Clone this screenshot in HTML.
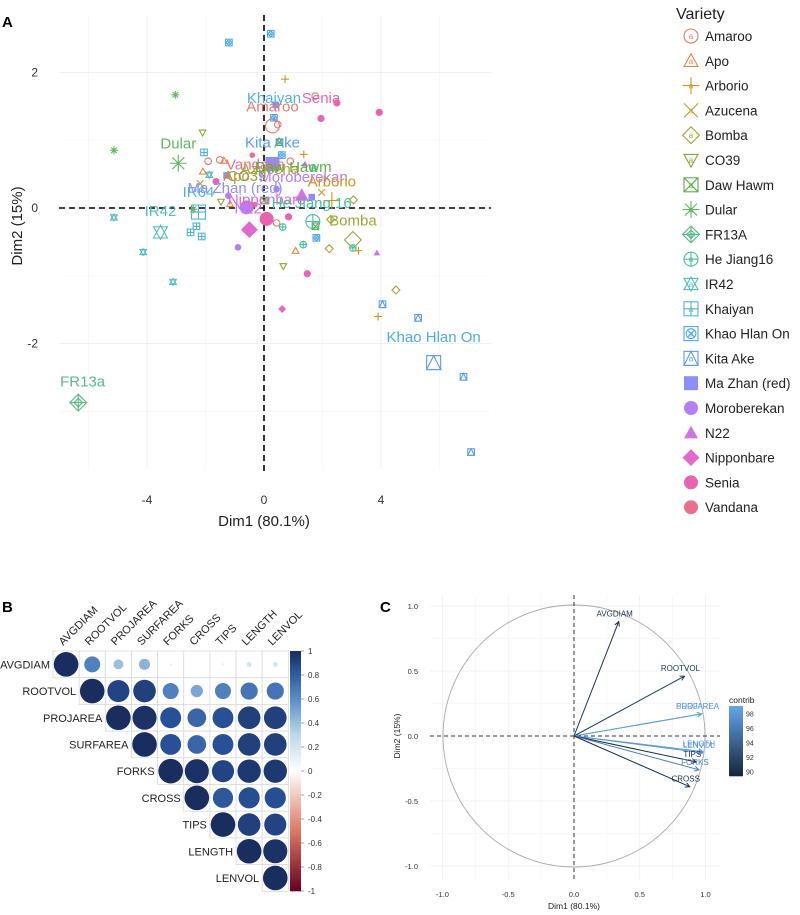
<!DOCTYPE html>
<html><head><meta charset="utf-8"><style>
html,body{margin:0;padding:0;background:#fff;}
svg{display:block;font-family:"Liberation Sans",sans-serif;}
</style></head><body>
<svg id="fig" width="800" height="915" viewBox="0 0 800 915">
<text x="2" y="27" font-size="15" font-weight="bold">A</text>
<text x="2" y="612" font-size="15" font-weight="bold">B</text>
<text x="380" y="612" font-size="15" font-weight="bold">C</text>
<g id="pa"></g>
<g id="leg"></g>
<g id="pb"></g>
<g id="pc"></g>
</svg>
<script>
// ---------- Panel A data ----------
const varieties=["Amaroo","Apo","Arborio","Azucena","Bomba","CO39","Daw Hawm","Dular","FR13A","He Jiang16","IR42","Khaiyan","Khao Hlan On","Kita Ake","Ma Zhan (red)","Moroberekan","N22","Nipponbare","Senia","Vandana"];
const varColors=["#e07a72","#df8846","#cf9325","#b99d30","#a2a435","#83aa33","#5cae45","#62b663","#58b985","#4bbca2","#55bbbb","#52b3da","#50a9ec","#5b9bf3","#8e8ef8","#b57ef2","#d372e4","#e068cf","#e764b0","#e9708d"];
const varShapes=["ocircle","otri","plus","cross","odiamond","otridown","sqx","star","diamplus","circplus","david","sqplus","sqcirc","sqtri","fsquare","fcircle","ftri","fdiamond","fcircle","fcircle"];
// points: variety index, dim1, dim2, big(1)=centroid
const ptVar=[12,12,12,12,12, 13,13,13,13,13, 11,11,11,11,11, 10,10,10,10,10, 7,7,7,7, 8, 0,0,0,0,0,0,0, 1,1,1,1, 2,2,2,2,2, 3,3, 4,4,4,4,4, 5,5,5, 6,6,6, 9,9,9,9,9, 14,14,14,14, 15,15,15,15, 16,16,16, 17,17, 18,18,18,18,18,18,18, 19,19];
const ptX=[-1.20,0.23,0.61,1.79,0.34, 4.05,5.27,6.82,7.08,5.80, -2.05,-2.51,-2.31,-2.13,-2.24, -5.13,-4.13,-3.11,-1.87,-3.54, -3.03,-5.13,-2.42,-2.93, -6.35, 1.75,0.47,-1.91,-1.51,0.90,0.43,0.29, -1.37,-2.09,1.08,-1.16, 0.72,1.36,3.23,3.90,2.32, -2.18,1.97, 3.06,2.28,2.23,4.51,3.04, -2.10,-1.47,0.66, 0.53,1.76,0.0, 1.67,0.64,1.34,3.04,1.67, -1.28,1.63,0.40,0.29, -0.89,-1.22,0.43,-0.59, 1.40,3.86,1.29, -0.50,0.62, 1.95,2.49,3.94,0.84,1.48,-1.64,0.09, -0.40,-0.31];
const ptY=[2.44,2.57,0.78,-0.44,1.33, -1.42,-1.62,-2.49,-3.60,-2.28, 0.82,-0.36,-0.27,-0.42,-0.06, -0.14,-0.65,-1.09,0.49,-0.36, 1.67,0.85,-0.02,0.66, -2.87, 1.65,1.23,0.69,0.71,0.69,-0.22,1.21, 0.70,0.54,-0.63,0.06, 1.90,0.79,-0.63,-1.60,0.11, 0.36,0.23, 0.12,-0.17,-0.60,-1.21,-0.47, 1.11,0.09,-0.86, 0.97,-0.27,0.11, 0.59,-0.28,-0.54,-0.59,-0.20, 0.48,0.16,1.52,0.65, -0.58,0.18,0.28,0.01, 0.65,-0.66,0.19, -0.32,-1.49, 1.32,1.55,1.41,-0.13,-0.97,0.39,-0.16, 0.78,0.05];
const ptBig=[0,0,0,0,0, 0,0,0,0,1, 0,0,0,0,1, 0,0,0,0,1, 0,0,0,1, 1, 0,0,0,0,0,0,1, 0,0,0,0, 0,0,0,0,1, 0,0, 0,0,0,0,1, 0,0,0, 0,0,0, 0,0,0,0,1, 0,0,0,1, 0,0,0,1, 0,0,1, 1,0, 0,0,0,0,0,0,1, 0,0];
const labText=["Khaiyan","Senia","Amaroo","Dular","Kita Ake","Vandana","Azucena","Daw Hawm","Apo","CO39","Moroberekan","Arborio","IR64","Ma Zhan (red)","Nipponbare","He Jiang 16","IR42","N22","Bomba","Khao Hlan On","FR13a"];
const labVar=[11,18,0,7,13,19,3,6,1,5,15,2,11,14,17,9,10,16,4,12,8];
const labX=[0.34,1.95,0.29,-2.93,0.29,-0.29,0.2,1.0,-0.94,-0.59,1.35,2.32,-2.24,-0.99,0.09,1.63,-3.54,-0.54,3.04,5.80,-6.2];
const labY=[1.55,1.55,1.42,0.88,0.89,0.57,0.50,0.53,0.40,0.40,0.38,0.32,0.16,0.22,0.05,0.00,-0.12,-0.08,-0.26,-1.98,-2.63];
const xTicks=[-4,0,4];
const yTicks=[-2,0,2];

const NS="http://www.w3.org/2000/svg";
function mk(tag,attrs,parent){const e=document.createElementNS(NS,tag);for(const k in attrs)e.setAttribute(k,attrs[k]);if(parent)parent.appendChild(e);return e;}

const pa=document.getElementById('pa');
const ax=v=>264+v*29.25;
const ay=v=>208-v*67.8;
// grid
for(let v=-6;v<=8;v+=2){const x=ax(v);if(x<59||x>491)continue;const g=mk('line',{x1:x,x2:x,y1:15,y2:470,stroke:v%4===0?'#ebebeb':'#f4f4f4','stroke-width':v%4===0?0.8:0.6},pa);

}
for(let v=-4;v<=3;v+=1){const y=ay(v);if(y<15||y>470)continue;const g=mk('line',{x1:59,x2:491,y1:y,y2:y,stroke:v%2===0?'#ebebeb':'#f4f4f4','stroke-width':v%2===0?0.8:0.6},pa);

}
{const l1=mk('line',{x1:ax(0),x2:ax(0),y1:15,y2:475,stroke:'#000','stroke-width':1.6,'stroke-dasharray':'6,4'},pa);


const l2=mk('line',{x1:59,x2:491,y1:ay(0),y2:ay(0),stroke:'#000','stroke-width':1.6,'stroke-dasharray':'6,4'},pa);

}
xTicks.forEach(v=>{const t=mk('text',{x:ax(v),y:504,'font-size':12,'text-anchor':'middle',fill:'#333'},pa);t.textContent=v;

});
yTicks.forEach(v=>{const t=mk('text',{x:38,y:ay(v)+4,'font-size':12,'text-anchor':'end',fill:'#333'},pa);t.textContent=v;

});
{const t=mk('text',{x:264,y:526,'font-size':15,'text-anchor':'middle',fill:'#222'},pa);t.textContent='Dim1 (80.1%)';


const t2=mk('text',{x:0,y:0,'font-size':15,'text-anchor':'middle',fill:'#222',transform:'translate(22,226) rotate(-90)'},pa);t2.textContent='Dim2 (15%)';

}

function shape(g,type,cx,cy,r,col){
  const sw=1.1;const o={fill:'none',stroke:col,'stroke-width':sw};
  const f={fill:col,stroke:'none'};
  const tri=(d)=>{const h=r;return d>0?`${cx},${cy-h} ${cx+h},${cy+h*0.8} ${cx-h},${cy+h*0.8}`:`${cx},${cy+h} ${cx+h},${cy-h*0.8} ${cx-h},${cy-h*0.8}`;};
  const dia=`${cx},${cy-r*1.2} ${cx+r*1.2},${cy} ${cx},${cy+r*1.2} ${cx-r*1.2},${cy}`;
  switch(type){
    case 'ocircle':mk('circle',Object.assign({cx,cy,r},o),g);break;
    case 'otri':mk('polygon',Object.assign({points:tri(1)},o),g);break;
    case 'otridown':mk('polygon',Object.assign({points:tri(-1)},o),g);break;
    case 'plus':mk('path',Object.assign({d:`M${cx-r*1.2},${cy}h${r*2.4}M${cx},${cy-r*1.2}v${r*2.4}`},o),g);break;
    case 'cross':mk('path',Object.assign({d:`M${cx-r},${cy-r}L${cx+r},${cy+r}M${cx+r},${cy-r}L${cx-r},${cy+r}`},o),g);break;
    case 'odiamond':mk('polygon',Object.assign({points:dia},o),g);break;
    case 'sqx':mk('rect',Object.assign({x:cx-r,y:cy-r,width:2*r,height:2*r},o),g);mk('path',Object.assign({d:`M${cx-r},${cy-r}L${cx+r},${cy+r}M${cx+r},${cy-r}L${cx-r},${cy+r}`},o),g);break;
    case 'star':mk('path',Object.assign({d:`M${cx-r*1.2},${cy}h${r*2.4}M${cx},${cy-r*1.2}v${r*2.4}M${cx-r*.85},${cy-r*.85}L${cx+r*.85},${cy+r*.85}M${cx+r*.85},${cy-r*.85}L${cx-r*.85},${cy+r*.85}`},o),g);break;
    case 'diamplus':mk('polygon',Object.assign({points:dia},o),g);mk('path',Object.assign({d:`M${cx-r*1.2},${cy}h${r*2.4}M${cx},${cy-r*1.2}v${r*2.4}`},o),g);mk('polygon',Object.assign({points:`${cx},${cy-r*.6} ${cx+r*.6},${cy} ${cx},${cy+r*.6} ${cx-r*.6},${cy}`},o),g);break;
    case 'circplus':mk('circle',Object.assign({cx,cy,r},o),g);mk('path',Object.assign({d:`M${cx-r},${cy}h${2*r}M${cx},${cy-r}v${2*r}`},o),g);break;
    case 'david':mk('polygon',Object.assign({points:tri(1)},o),g);mk('polygon',Object.assign({points:tri(-1)},o),g);break;
    case 'sqplus':mk('rect',Object.assign({x:cx-r,y:cy-r,width:2*r,height:2*r},o),g);mk('path',Object.assign({d:`M${cx-r},${cy}h${2*r}M${cx},${cy-r}v${2*r}`},o),g);break;
    case 'sqcirc':mk('rect',Object.assign({x:cx-r,y:cy-r,width:2*r,height:2*r},o),g);mk('circle',Object.assign({cx,cy,r:r*.7},o),g);mk('path',Object.assign({d:`M${cx-r*.5},${cy-r*.5}L${cx+r*.5},${cy+r*.5}M${cx+r*.5},${cy-r*.5}L${cx-r*.5},${cy+r*.5}`},o),g);break;
    case 'sqtri':mk('rect',Object.assign({x:cx-r,y:cy-r,width:2*r,height:2*r},o),g);mk('polygon',Object.assign({points:`${cx},${cy-r} ${cx+r},${cy+r} ${cx-r},${cy+r}`},o),g);break;
    case 'fsquare':mk('rect',Object.assign({x:cx-r,y:cy-r,width:2*r,height:2*r},f),g);break;
    case 'fcircle':mk('circle',Object.assign({cx,cy,r},f),g);break;
    case 'ftri':mk('polygon',Object.assign({points:tri(1)},f),g);break;
    case 'fdiamond':mk('polygon',Object.assign({points:dia},f),g);break;
  }
}
for(let i=0;i<ptVar.length;i++){
  const v=ptVar[i];const g=mk('g',{},pa);
  
  
  let r=ptBig[i]?7:3.3; if(v===19&&!ptBig[i])r=2.8; if(v===18&&!ptBig[i])r=3.6;
  shape(g,varShapes[v],ax(ptX[i]),ay(ptY[i]),r,varColors[v]);
}
for(let i=0;i<labText.length;i++){
  const t=mk('text',{x:ax(labX[i]),y:ay(labY[i]),'font-size':15,'text-anchor':'middle',fill:varColors[labVar[i]]},pa);
  t.textContent=labText[i];
  
  
}
// legend
const leg=document.getElementById('leg');
{const t=mk('text',{x:676,y:19,'font-size':16,fill:'#222'},leg);t.textContent='Variety';

}
varieties.forEach((n,i)=>{
  const y=36+i*24.8;const g=mk('g',{},leg);
  
  
  shape(g,varShapes[i],691,y,7,varColors[i]);
  if(varShapes[i][0]!=='f'){const a=mk('text',{x:691,y:y+3,'font-size':8,'text-anchor':'middle',fill:varColors[i]},g);a.textContent='a';}
  const t=mk('text',{x:705,y:y+5,'font-size':13.5,fill:'#222'},g);t.textContent=n;
});

// ---------- Panel B data ----------
const corrVars=["AVGDIAM","ROOTVOL","PROJAREA","SURFAREA","FORKS","CROSS","TIPS","LENGTH","LENVOL"];
const corrRow0=[1,0.65,0.4,0.45,0.1,0,0.1,0.2,0.2];
const corrRow1=[1,0.9,0.92,0.65,0.5,0.65,0.7,0.7];
const corrRow2=[1,0.98,0.85,0.76,0.85,0.92,0.92];
const corrRow3=[1,0.85,0.76,0.85,0.92,0.92];
const corrRow4=[1,0.98,0.9,0.95,0.95];
const corrRow5=[1,0.82,0.86,0.86];
const corrRow6=[1,0.92,0.9];
const corrRow7=[1,0.98];
const corrRow8=[1];
const corrRows=[corrRow0,corrRow1,corrRow2,corrRow3,corrRow4,corrRow5,corrRow6,corrRow7,corrRow8];
const cbTicks=[1,0.8,0.6,0.4,0.2,0,-0.2,-0.4,-0.6,-0.8,-1];

function corrColor(v){
  const p=[[-1,[103,0,31]],[-0.5,[220,120,100]],[0,[255,255,255]],[0.3,[190,215,235]],[0.6,[90,140,200]],[0.85,[40,80,150]],[1,[25,45,95]]];
  for(let i=0;i<p.length-1;i++){if(v>=p[i][0]&&v<=p[i+1][0]){const t=(v-p[i][0])/(p[i+1][0]-p[i][0]);const c=p[i][1].map((a,k)=>Math.round(a+(p[i+1][1][k]-a)*t));return `rgb(${c})`;}}
  return 'rgb(25,45,95)';
}
const pb=document.getElementById('pb');
const bx0=53,by0=651,cw=26.15,ch=26.7;
corrRows.forEach((row,i)=>{
  row.forEach((v,k)=>{
    const j=i+k;
    const c=mk('rect',{x:bx0+j*cw,y:by0+i*ch,width:cw,height:ch,fill:'#fff',stroke:'#d9d9d9','stroke-width':0.8},pb);
    
    
    const ci=mk('circle',{cx:bx0+(j+0.5)*cw,cy:by0+(i+0.5)*ch,r:Math.abs(v)*12.3,fill:corrColor(v)},pb);
    
    
  });
  const t=mk('text',{x:bx0+i*cw-3,y:by0+(i+0.5)*ch+4,'font-size':11,'text-anchor':'end',fill:'#222'},pb);
  t.textContent=corrVars[i];
  
  
  const t2=mk('text',{x:0,y:0,'font-size':11,fill:'#222',transform:`translate(${bx0+(i+0.5)*cw-3},${by0-5}) rotate(-45)`},pb);
  t2.textContent=corrVars[i];
  
  
});
// colorbar
const cbx=290,cby=651,cbh=240;
for(let k=0;k<120;k++){const v=1-2*(k+0.5)/120;const r=mk('rect',{x:cbx,y:cby+k*cbh/120,width:11,height:cbh/120+0.3,fill:corrColor(v)},pb);

}
cbTicks.forEach(v=>{const y=cby+(1-v)/2*cbh;mk('line',{x1:cbx+11,x2:cbx+14,y1:y,y2:y,stroke:'#666','stroke-width':0.6},pb);
const t=mk('text',{x:cbx+18,y:y+3,'font-size':8,fill:'#333'},pb);t.textContent=v;

});

// ---------- Panel C data ----------
const varNames=["AVGDIAM","ROOTVOL","PROJAREA","SURFAREA","LENGTH","LENVOL","TIPS","FORKS","CROSS"];
const varD1=[0.34,0.84,0.97,0.97,0.98,0.98,0.93,0.95,0.88];
const varD2=[0.88,0.46,0.17,0.17,-0.12,-0.13,-0.20,-0.26,-0.39];
const varContrib=[90.5,91,98.5,98.5,98,98,90,96,90];
const cTicks=[-1,-0.5,0,0.5,1];
const contribTicks=[98,96,94,92,90];
const pc=document.getElementById('pc');
const cx0=574,cy0=736,sx=131.5,sy=130;
const cxs=v=>cx0+v*sx, cys=v=>cy0-v*sy;
function contribColor(c){const t=Math.max(0,Math.min(1,(c-89.5)/(99-89.5)));const a=[22,38,60],b=[100,165,235];return `rgb(${a.map((x,i)=>Math.round(x+(b[i]-x)*t))})`;}
for(let v=-1.25;v<=1.1;v+=0.25){const x=cxs(v);if(x<430||x>720)continue;mk('line',{x1:x,x2:x,y1:595,y2:880,stroke:Math.abs(v*2-Math.round(v*2))<1e-6?'#ececec':'#f6f6f6','stroke-width':0.7},pc);}
for(let v=-1.25;v<=1.1;v+=0.25){const y=cys(v);if(y<595||y>880)continue;mk('line',{x1:430,x2:720,y1:y,y2:y,stroke:Math.abs(v*2-Math.round(v*2))<1e-6?'#ececec':'#f6f6f6','stroke-width':0.7},pc);}
{const c=mk('circle',{cx:cx0,cy:cy0,r:131,fill:'none',stroke:'#aaa','stroke-width':0.9},pc);

}
mk('line',{x1:cx0,x2:cx0,y1:595,y2:880,stroke:'#333','stroke-width':1,'stroke-dasharray':'4,3'},pc);
mk('line',{x1:430,x2:720,y1:cy0,y2:cy0,stroke:'#333','stroke-width':1,'stroke-dasharray':'4,3'},pc);
cTicks.forEach(v=>{const t=mk('text',{x:cxs(v),y:897,'font-size':7.5,'text-anchor':'middle',fill:'#333'},pc);t.textContent=v.toFixed(1);


const t2=mk('text',{x:418,y:cys(v)+3,'font-size':7.5,'text-anchor':'end',fill:'#333'},pc);t2.textContent=v.toFixed(1);

});
{const t=mk('text',{x:574,y:909,'font-size':8.5,'text-anchor':'middle',fill:'#222'},pc);t.textContent='Dim1 (80.1%)';


const t2=mk('text',{x:0,y:0,'font-size':8.5,'text-anchor':'middle',fill:'#222',transform:'translate(400,736) rotate(-90)'},pc);t2.textContent='Dim2 (15%)';

}
varNames.forEach((n,i)=>{
  const col=contribColor(varContrib[i]);const x2=cxs(varD1[i]),y2=cys(varD2[i]);
  const ang=Math.atan2(y2-cy0,x2-cx0);const h=5;
  const g=mk('g',{},pc);
  
  
  mk('line',{x1:cx0,y1:cy0,x2,y2,stroke:col,'stroke-width':1},g);
  mk('path',{d:`M${x2-h*Math.cos(ang-0.5)},${y2-h*Math.sin(ang-0.5)}L${x2},${y2}L${x2-h*Math.cos(ang+0.5)},${y2-h*Math.sin(ang+0.5)}`,fill:'none',stroke:col,'stroke-width':1},g);
  const t=mk('text',{x:x2-4,y:y2-5,'font-size':8,'text-anchor':'middle',fill:col},g);t.textContent=n;
});
{const t=mk('text',{x:729,y:703,'font-size':8.5,fill:'#222'},pc);t.textContent='contrib';

}
for(let k=0;k<40;k++){const c=99-(k+0.5)/40*9.6;mk('rect',{x:729,y:706+k*70/40,width:14,height:70/40+0.3,fill:contribColor(c)},pc);}
contribTicks.forEach(v=>{const y=706+(99-v)/9.6*70;const t=mk('text',{x:746,y:y+3,'font-size':7,fill:'#333'},pc);t.textContent=v;

});
</script>
</body></html>
